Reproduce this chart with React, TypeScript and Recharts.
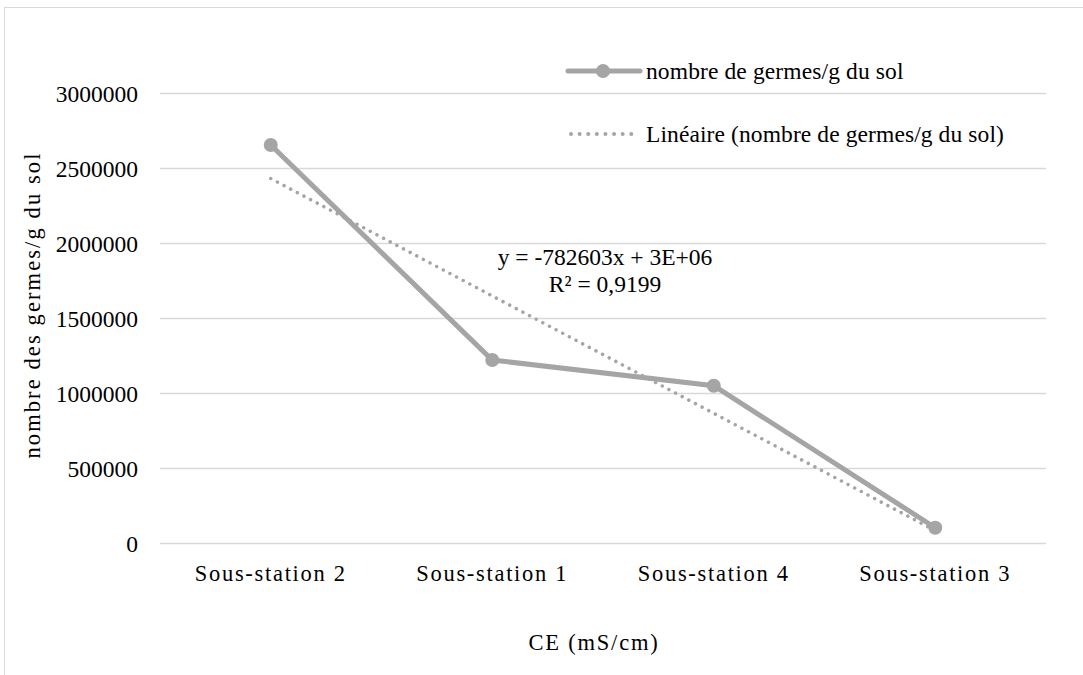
import React from 'react';
import {
  LineChart,
  Line,
  XAxis,
  YAxis,
  CartesianGrid,
  Customized,
} from 'recharts';

// Station names along the x axis
const categories = ['Sous-station 2', 'Sous-station 1', 'Sous-station 4', 'Sous-station 3'];
// Germ counts per gram of soil
const germCounts = [2656700, 1223000, 1052000, 105000];
// Y axis ticks
const yTicks = [0, 500000, 1000000, 1500000, 2000000, 2500000, 3000000];

const SERIES_NAME = 'nombre de germes/g du sol';
const TREND_NAME = 'Linéaire (nombre de germes/g du sol)';
const EQUATION = 'y = -782603x + 3E+06';
const R_SQUARED = 'R² = 0,9199';

const GREY = '#a5a5a5';
const GRID = '#d9d9d9';
const FONT = "'Liberation Serif', 'Times New Roman', serif";

// Ordinary least-squares fit over the category index (1..n), as a linear trendline
function linearFit(values: number[]) {
  const n = values.length;
  const xs = values.map((_, i) => i + 1);
  const mx = xs.reduce((a, b) => a + b, 0) / n;
  const my = values.reduce((a, b) => a + b, 0) / n;
  let sxy = 0;
  let sxx = 0;
  xs.forEach((x, i) => {
    sxy += (x - mx) * (values[i] - my);
    sxx += (x - mx) * (x - mx);
  });
  const slope = sxy / sxx;
  const intercept = my - slope * mx;
  return xs.map((x) => intercept + slope * x);
}

const trend = linearFit(germCounts);

const data = categories.map((name, i) => ({
  name,
  germes: germCounts[i],
  trend: trend[i],
}));

const txt = (size: number, spacing = 0): React.CSSProperties => ({
  fontFamily: FONT,
  fontSize: size,
  letterSpacing: spacing,
  fill: '#000',
});

const XTick = (props: any) => {
  const { x, y, payload } = props;
  return (
    <text x={x} y={y} dy={16.3} textAnchor="middle" style={txt(22.5, 1.7)}>
      {payload.value}
    </text>
  );
};

const YTick = (props: any) => {
  const { x, y, payload } = props;
  return (
    <text x={x} y={y} dy={8.2} textAnchor="end" style={txt(23.5)}>
      {payload.value}
    </text>
  );
};

// Legend, trendline equation and axis titles
const Annotations = () => (
  <g>
    <g transform="translate(560 50)">
      <line x1={8} y1={21} x2={80} y2={21} stroke={GREY} strokeWidth={5} strokeLinecap="round" />
      <circle cx={43} cy={21} r={7} fill={GREY} />
      <text x={86} y={29} style={txt(23.5, 0.12)}>
        {SERIES_NAME}
      </text>
      <line
        x1={11}
        y1={84}
        x2={72}
        y2={84}
        stroke={GREY}
        strokeWidth={4}
        strokeLinecap="round"
        strokeDasharray="0.01 8.6"
      />
      <text x={86} y={92} style={txt(23.5, 0.1)}>
        {TREND_NAME}
      </text>
    </g>
    <text x={605} y={265} textAnchor="middle" style={txt(23.5)}>
      {EQUATION}
    </text>
    <text x={605} y={292} textAnchor="middle" style={txt(23.5)}>
      {R_SQUARED}
    </text>
    <text x={594} y={650} textAnchor="middle" style={txt(22.5, 1.8)}>
      CE (mS/cm)
    </text>
    <text
      x={0}
      y={0}
      transform="translate(40 305) rotate(-90)"
      textAnchor="middle"
      style={txt(22.5, 2.1)}
    >
      nombre des germes/g du sol
    </text>
  </g>
);

export default function App() {
  return (
    <div
      style={{
        position: 'absolute',
        left: 0,
        top: 0,
        width: 1083,
        height: 675,
        background: '#fff',
        overflow: 'hidden',
        fontFamily: FONT,
      }}
    >
      <div
        style={{
          position: 'absolute',
          left: 4,
          top: 7,
          width: 1100,
          height: 700,
          borderTop: `1.5px solid ${GRID}`,
          borderLeft: `1.5px solid ${GRID}`,
        }}
      />
      <div style={{ position: 'absolute', left: 0, top: 0 }}>
        <LineChart
          width={1083}
          height={675}
          data={data}
          margin={{ top: 93.5, right: 37, bottom: 0, left: 0 }}
        >
          <CartesianGrid vertical={false} stroke={GRID} strokeWidth={1.5} />
          <XAxis
            dataKey="name"
            height={131.5}
            axisLine={false}
            tickLine={false}
            tickSize={0}
            tickMargin={21}
            padding={{ left: 110.75, right: 110.75 }}
            tick={<XTick />}
            interval={0}
          />
          <YAxis
            width={160}
            domain={[0, 3000000]}
            ticks={yTicks}
            axisLine={false}
            tickLine={false}
            tickSize={0}
            tickMargin={22}
            tick={<YTick />}
            interval={0}
          />
          <Line
            type="linear"
            dataKey="trend"
            name={TREND_NAME}
            stroke={GREY}
            strokeWidth={3.5}
            strokeDasharray="0.01 7.5"
            strokeLinecap="round"
            dot={false}
            activeDot={false}
            isAnimationActive={false}
          />
          <Line
            type="linear"
            dataKey="germes"
            name={SERIES_NAME}
            stroke={GREY}
            strokeWidth={5}
            dot={{ r: 7, fill: GREY, stroke: GREY, strokeWidth: 0 }}
            activeDot={false}
            isAnimationActive={false}
          />
          <Customized component={<Annotations />} />
        </LineChart>
      </div>
    </div>
  );
}
